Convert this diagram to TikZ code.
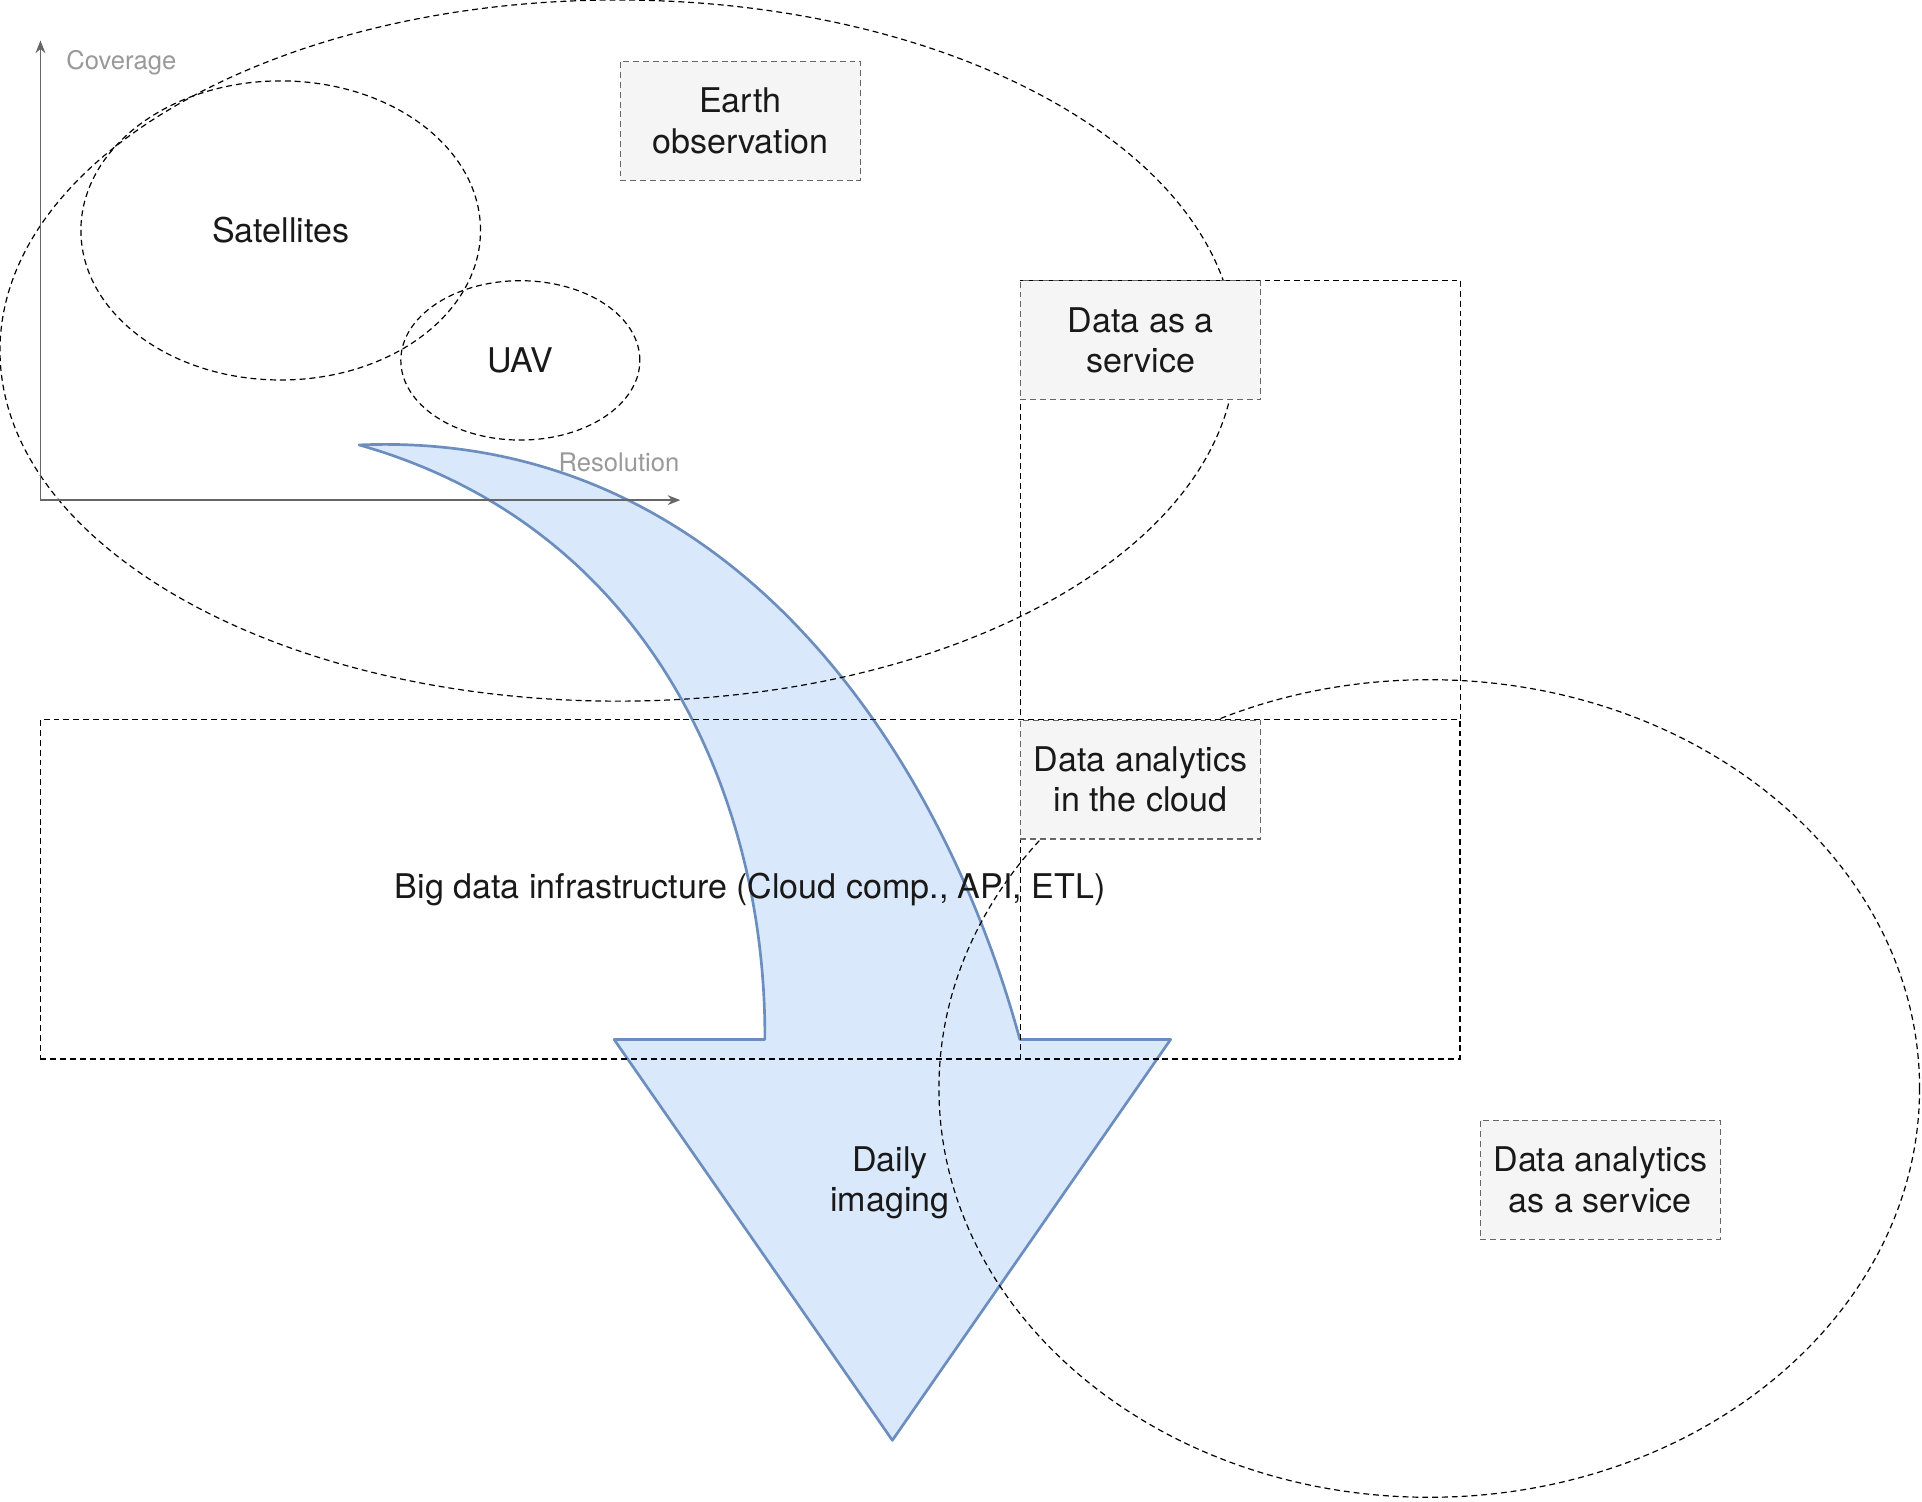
\documentclass[tikz,border=0pt]{standalone}
\usepackage{fontspec}
\setmainfont{TeX Gyre Heros}
\usetikzlibrary{positioning}
\usetikzlibrary{shapes.geometric}
\usetikzlibrary{arrows.meta}
\newcommand{\px}{0.030645cm}
\definecolor{boxfill}{HTML}{F5F5F5}
\definecolor{boxline}{HTML}{666666}
\definecolor{flowfill}{HTML}{DAE8FC}
\definecolor{flowline}{HTML}{6C8EBF}
\definecolor{axisgray}{HTML}{666666}
\definecolor{labelgray}{HTML}{999999}

\begin{document}
\begin{tikzpicture}[x=\px, y=-\px,
    every node/.style={font=\fontsize{24.2}{28.8}\selectfont, text=black!90},
    dashline/.style={draw=black, line width=0.85pt, dash pattern=on 4.2pt off 2.8pt},
    area/.style={ellipse, dashline, inner sep=0pt},
    zone/.style={rectangle, dashline, inner sep=0pt},
    tag/.style={rectangle, draw=boxline, fill=boxfill, line width=0.85pt, dash pattern=on 4.2pt off 2.8pt,
                minimum width=196*\px, minimum height=97*\px, inner sep=0pt, align=center},
    axislabel/.style={font=\fontsize{18.2}{22}\selectfont, text=labelgray},
    ]
        \useasboundingbox (0,0) rectangle (1568,1225);

        % daily imaging arrow, behind everything
        \filldraw[fill=flowfill, draw=flowline, line width=1.9pt, line join=round]
            (293,363) .. controls (600,350) and (770,620) .. (832,848)
            -- (955,848) -- (728,1175) -- (501,848) -- (624,848)
            .. controls (625,650) and (530,430) .. (293,363) -- cycle;
        \node (daily) at (726,965) [align=center] {Daily\\imaging};

        \node[area, minimum width=1008*\px, minimum height=572*\px] (eoarea) at (504,286) {};
        \node[area, minimum width=326*\px, minimum height=244*\px] (sat) at (229,188) {Satellites};
        \node[area, minimum width=195*\px, minimum height=130*\px] (uav) at (424.5,294) {UAV};
        \node[area, minimum width=800*\px, minimum height=667*\px] (daasarea) at (1166,888) {};

        \node[zone, minimum width=1158*\px, minimum height=277*\px] (bigdata) at (612,725.5)
            {Big data infrastructure (Cloud comp., API, ETL)};
        \node[zone, draw=none, minimum width=358*\px, minimum height=635*\px] (daaszone) at (1012,546.5) {};
        \draw[dashline] (daaszone.south west) |- (daaszone.north east) -- (bigdata.north east);

        % axes
        \coordinate (origin) at (33,408);
        \coordinate (ytop) at (33,33);
        \coordinate (xend) at (555,408);
        \draw[axisgray, line width=1pt, -{Stealth[length=9pt, width=7pt]}] (origin) -- (ytop);
        \draw[axisgray, line width=1pt, -{Stealth[length=9pt, width=7pt]}] (origin) -- (xend);
        \node[axislabel] (cov) at (99,51) {Coverage};
        \node[axislabel] (res) at (505,377) {Resolution};

        \node[tag] (eo) at (604,98.5) {Earth\\observation};
        \node[tag] (daas) at (930.5,277.5) {Data as a\\service};
        \node[tag] (dac) at (930.5,636) {Data analytics\\in the cloud};
        \node[tag] (daaserv) at (1305.5,962.5) {Data analytics\\as a service};
    \end{tikzpicture}
\end{document}
